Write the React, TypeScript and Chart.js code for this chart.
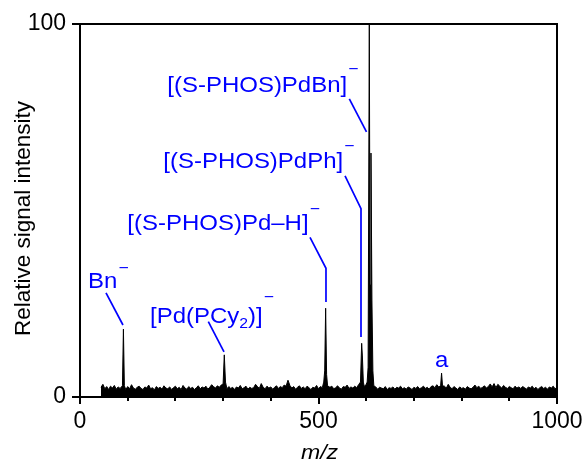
import React, { useEffect, useRef } from "react";
import { Chart, registerables } from "chart.js";

Chart.register(...registerables);

// ---- data -------------------------------------------------------------
// baseline noise, sampled every 4 m/z starting at m/z 44
const NOISE_START_MZ = 44;
const NOISE_STEP_MZ = 4;
const noiseIntensity = [
  2.6, 3.4, 2.2, 2.8, 2.0, 2.9, 2.4, 3.1, 2.1, 2.7, 2.3, 3.0, 2.5, 2.0, 2.8, 2.2, 3.3, 2.4, 2.1, 2.6,
  2.9, 2.3, 2.0, 2.7, 2.4, 3.2, 2.2, 2.5, 1.9, 2.8, 2.3, 2.6, 2.1, 3.0, 2.4, 2.2, 2.7, 2.0, 2.5, 2.9,
  2.2, 2.6, 2.0, 3.1, 2.4, 2.1, 2.8, 2.3, 2.6, 2.0, 2.5, 3.0, 2.2, 2.7, 2.4, 2.9, 2.1, 2.6, 3.3, 2.8,
  2.4, 3.0, 2.6, 3.2, 2.9, 2.5, 2.2, 2.8, 2.3, 2.6, 2.0, 2.7, 2.4, 3.1, 2.2, 2.5, 2.9, 2.1, 2.6, 2.3,
  2.5, 3.4, 2.8, 2.3, 3.6, 2.6, 2.2, 2.9, 2.4, 2.7, 2.1, 2.6, 3.0, 2.3, 2.8, 2.5, 3.2, 2.9, 4.5, 3.1,
  2.4, 2.8, 2.1, 2.6, 3.0, 2.3, 2.7, 2.2, 2.9, 2.5, 2.0, 2.6, 2.4, 3.1, 2.2, 2.8, 2.5, 3.0, 2.7, 2.3,
  2.6, 2.9, 2.2, 2.5, 3.0, 2.4, 2.1, 2.8, 2.6, 3.2, 2.3, 2.7, 2.4, 2.9, 2.5, 3.3, 2.6, 3.0, 2.8, 3.4,
  3.2, 2.9, 2.5, 2.3, 2.7, 2.1, 2.6, 2.4, 2.2, 2.8, 2.0, 2.5, 2.3, 2.7, 2.1, 2.6, 2.4, 2.9, 2.2, 2.5,
  2.1, 2.7, 2.4, 2.0, 2.6, 2.3, 2.8, 2.2, 2.5, 2.9, 2.3, 2.6, 2.1, 2.8, 3.0, 2.5, 3.3, 2.7, 3.1, 2.6,
  2.9, 2.4, 3.4, 2.6, 2.2, 2.8, 2.4, 2.0, 2.7, 2.3, 2.5, 2.1, 2.8, 2.4, 2.2, 2.6, 3.2, 2.5, 2.9, 2.3,
  2.6, 3.0, 2.4, 2.8, 3.5, 2.7, 3.6, 2.5, 3.4, 2.9, 2.4, 3.1, 2.6, 2.3, 2.8, 2.5, 2.2, 2.9, 2.4, 2.7,
  2.3, 2.8, 2.5, 2.1, 2.7, 2.4, 2.9, 2.2, 2.6, 2.0, 2.5, 2.8, 2.3, 2.6, 2.1, 2.7, 2.4, 2.9, 2.2, 2.6,
];

// ion peaks
const peakMz = [
  89, 91, 93,
  300, 302.5, 305,
  511, 513, 515, 517, 519,
  588, 590.5, 592, 594,
  602, 604, 606.5, 608, 610, 612, 614, 616,
  756, 758, 760,
];
const peakIntensity = [
  3.0, 18.2, 3.0,
  3.5, 11.3, 4.0,
  4.0, 7.0, 23.8, 6.0, 3.0,
  4.0, 14.4, 11.0, 4.0,
  4.0, 8.0, 100, 30, 65.4, 26, 7, 3,
  3.0, 6.4, 3.0,
];

const xTickValues = [0, 100, 200, 300, 400, 500, 600, 700, 800, 900, 1000];
const xLabeledTicks = [0, 500, 1000];
const yTickValues = [0, 100];

const xTitle = "m/z";
const yTitle = "Relative signal intensity";

// annotation labels (anchor in data units: m/z, %)
const annotations = [
  { parts: [{ t: "Bn" }], sup: "−", x: 16.8, y: 29.2, supRaise: 21, leader: [[54.5, 27.9], [90.1, 19.3]] },
  { parts: [{ t: "[Pd(PCy" }, { t: "2", sub: true }, { t: ")]" }], sup: "−", x: 146.8, y: 19.8, supRaise: 27, leader: [[269, 20.2], [301.9, 12.1]] },
  { parts: [{ t: "[(S-PHOS)Pd–H]" }], sup: "−", x: 99.2, y: 44.8, supRaise: 21, leader: [[482.2, 42.8], [515.7, 34.5], [515.7, 25.5]] },
  { parts: [{ t: "[(S-PHOS)PdPh]" }], sup: "−", x: 174.6, y: 61.3, supRaise: 22.5, leader: [[555.6, 59.3], [589.1, 50.5], [589.1, 16.1]] },
  { parts: [{ t: "[(S-PHOS)PdBn]" }], sup: "−", x: 183, y: 81.9, supRaise: 22.5, leader: [[564.6, 79.9], [600.6, 71.1]] },
  { parts: [{ t: "a" }], sup: "", x: 744.2, y: 8.1, supRaise: 0, leader: [] as number[][] },
];

// ---- styles -------------------------------------------------------------
const FONT = '"Liberation Sans", Arial, Helvetica, sans-serif';
const BLUE = "#0000ff";

function buildPoints() {
  const pts: { x: number; y: number }[] = [];
  noiseIntensity.forEach((v, i) => {
    const x = NOISE_START_MZ + i * NOISE_STEP_MZ;
    if (!peakMz.some((p) => Math.abs(p - x) < 2)) pts.push({ x, y: v });
  });
  peakMz.forEach((x, i) => pts.push({ x, y: peakIntensity[i] }));
  pts.sort((a, b) => a.x - b.x);
  return pts;
}

const decorPlugin = {
  id: "decor",
  afterDraw(chart: any) {
    const ctx: CanvasRenderingContext2D = chart.ctx;
    const { left, right, top, bottom } = chart.chartArea;
    const xs = chart.scales.x;
    const ys = chart.scales.y;
    ctx.save();
    // box (top + right)
    ctx.strokeStyle = "#000";
    ctx.lineWidth = 2;
    ctx.beginPath();
    ctx.moveTo(left - 8, top);
    ctx.lineTo(right, top);
    ctx.lineTo(right, bottom);
    ctx.stroke();
    // x ticks
    xTickValues.forEach((v) => {
      const px = Math.round(xs.getPixelForValue(v));
      const len = xLabeledTicks.includes(v) ? 7 : 4;
      ctx.beginPath();
      ctx.moveTo(px, bottom);
      ctx.lineTo(px, bottom + len);
      ctx.stroke();
    });
    // y ticks
    yTickValues.forEach((v) => {
      const py = Math.round(ys.getPixelForValue(v));
      ctx.beginPath();
      ctx.moveTo(left - 8, py);
      ctx.lineTo(left, py);
      ctx.stroke();
    });

    // axis titles
    ctx.fillStyle = "#000";
    ctx.textAlign = "center";
    ctx.textBaseline = "alphabetic";
    ctx.save();
    ctx.translate(30, (top + bottom) / 2 + 8);
    ctx.rotate(-Math.PI / 2);
    ctx.font = `22.5px ${FONT}`;
    ctx.fillText(yTitle, 0, 0);
    ctx.restore();
    ctx.save();
    ctx.translate((left + right) / 2 + 1, 459);
    ctx.scale(1.1, 1);
    ctx.font = `italic 21px ${FONT}`;
    ctx.fillText(xTitle, 0, 0);
    ctx.restore();

    // annotations
    ctx.fillStyle = BLUE;
    ctx.strokeStyle = BLUE;
    ctx.lineWidth = 1.7;
    ctx.textAlign = "left";
    const SX = 1.09;
    annotations.forEach((a) => {
      const px = xs.getPixelForValue(a.x);
      const py = ys.getPixelForValue(a.y);
      ctx.save();
      ctx.translate(px, py);
      ctx.scale(SX, 1);
      let cx = 0;
      a.parts.forEach((p: any) => {
        ctx.font = p.sub ? `14.5px ${FONT}` : `22px ${FONT}`;
        ctx.fillText(p.t, cx, p.sub ? 5 : 0);
        cx += ctx.measureText(p.t).width;
      });
      if (a.sup) {
        ctx.font = `16px ${FONT}`;
        ctx.fillText(a.sup, cx + 1, -(a.supRaise - 0.34 * 16));
      }
      ctx.restore();
      if (a.leader.length) {
        ctx.beginPath();
        a.leader.forEach(([lx, ly], i) => {
          const X = xs.getPixelForValue(lx);
          const Y = ys.getPixelForValue(ly);
          if (i === 0) ctx.moveTo(X, Y);
          else ctx.lineTo(X, Y);
        });
        ctx.stroke();
      }
    });
    ctx.restore();
  },
};

export default function App() {
  const ref = useRef<HTMLCanvasElement | null>(null);
  useEffect(() => {
    if (!ref.current) return;
    Chart.defaults.font.family = FONT;
    Chart.defaults.color = "#000";
    const chart = new Chart(ref.current, {
      type: "line",
      data: {
        datasets: [
          {
            data: buildPoints(),
            borderColor: "#000",
            backgroundColor: "#000",
            borderWidth: 1,
            pointRadius: 0,
            fill: "origin",
            tension: 0,
          },
        ],
      },
      options: {
        animation: false,
        responsive: false,
        devicePixelRatio: 1,
        layout: { padding: { top: 24, right: 25, left: 0, bottom: 0 } },
        plugins: { legend: { display: false }, tooltip: { enabled: false } },
        scales: {
          x: {
            type: "linear",
            min: 0,
            max: 1000,
            afterFit: (s: any) => {
              s.height = 64;
              s.paddingLeft = 0;
              s.paddingRight = 0;
            },
            afterBuildTicks: (s: any) => {
              s.ticks = xTickValues.map((v) => ({ value: v }));
            },
            ticks: {
              autoSkip: false,
              maxRotation: 0,
              padding: 11,
              color: "#000",
              font: { size: 23 },
              callback: (v: any) => (xLabeledTicks.includes(Number(v)) ? String(v) : ""),
            },
            grid: { display: false, drawTicks: false },
            border: { display: true, color: "#000", width: 2 },
          },
          y: {
            type: "linear",
            min: 0,
            max: 100,
            afterFit: (s: any) => {
              s.width = 80;
              s.paddingTop = 0;
              s.paddingBottom = 0;
            },
            afterBuildTicks: (s: any) => {
              s.ticks = yTickValues.map((v) => ({ value: v }));
            },
            ticks: {
              autoSkip: false,
              padding: 14,
              color: "#000",
              font: { size: 23 },
              callback: (v: any) => String(v),
            },
            grid: { display: false, drawTicks: false },
            border: { display: true, color: "#000", width: 2 },
          },
        },
      },
      plugins: [decorPlugin],
    });
    return () => chart.destroy();
  }, []);
  return (
    <div style={{ position: "fixed", left: 0, top: 0, width: 582, height: 461, background: "#fff" }}>
      <canvas ref={ref} width={582} height={461} />
    </div>
  );
}
